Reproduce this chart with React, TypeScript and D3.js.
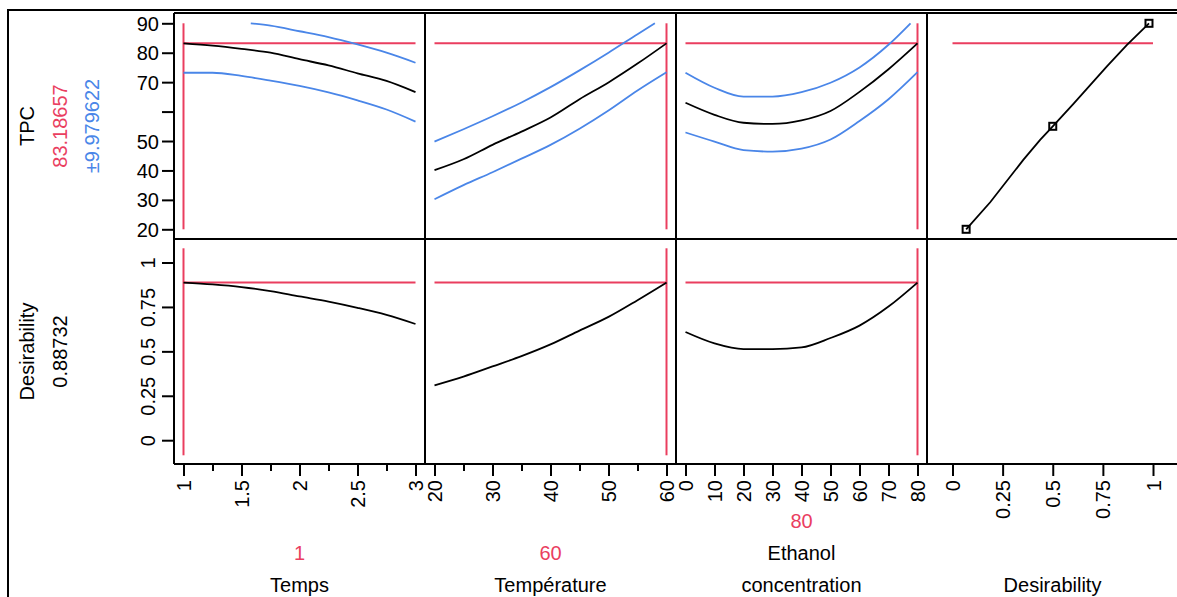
import React, { useEffect, useRef } from 'react';
import * as d3 from 'd3';

// current settings / predicted response
const currentTemps = 1;
const currentTemp = 60;
const currentEthanol = 80;
const currentTPC = 83.18657;
const tpcHalfWidth = 9.979622;
const currentDesir = 0.88732;

// Temps column
const tempsX = [1, 1.25, 1.5, 1.75, 2, 2.25, 2.5, 2.75, 3];
const tempsTPC = [83.19, 82.4, 81.3, 80.0, 77.8, 75.7, 73.0, 70.4, 66.6];
const tempsUpperX = [1.58, 1.75, 2, 2.25, 2.5, 2.75, 3];
const tempsUpper = [90, 89.2, 87.3, 85.3, 82.8, 80.0, 76.6];
const tempsLower = [73.2, 73.2, 72.1, 70.5, 68.7, 66.5, 63.8, 60.7, 56.6];
const tempsDesir = [0.887, 0.877, 0.862, 0.839, 0.809, 0.78, 0.745, 0.705, 0.654];

// Température column
const tempX = [20, 25, 30, 35, 40, 45, 50, 55, 60];
const tempTPC = [40.1, 43.8, 48.7, 53.2, 58.0, 64.2, 69.9, 76.3, 83.19];
const tempUpperX = [20, 25, 30, 35, 40, 45, 50, 55, 58];
const tempUpper = [49.8, 54.0, 58.4, 63.1, 68.3, 74.0, 80.0, 86.3, 90];
const tempLower = [30.2, 35.0, 39.4, 44.0, 48.7, 54.2, 60.4, 67.2, 73.4];
const tempDesir = [0.309, 0.358, 0.415, 0.473, 0.539, 0.617, 0.694, 0.788, 0.887];

// Ethanol concentration column
const ethX = [0, 10, 20, 30, 40, 50, 60, 70, 80];
const ethTPC = [63.0, 58.9, 56.2, 55.8, 57.0, 60.2, 66.7, 74.4, 83.19];
const ethUpperX = [0, 10, 20, 30, 40, 50, 60, 70, 77.6];
const ethUpper = [73.2, 68.1, 65.1, 65.1, 66.6, 69.8, 75.0, 82.7, 90];
const ethLower = [52.9, 49.8, 46.9, 46.4, 47.4, 50.5, 56.8, 64.2, 73.4];
const ethDesir = [0.609, 0.545, 0.513, 0.513, 0.522, 0.575, 0.645, 0.752, 0.887];

// desirability function for TPC
const desirD = [0.068, 0.188, 0.353, 0.437, 0.5, 0.603, 0.769, 0.869, 0.98];
const desirTPC = [20, 29.2, 43.6, 50.4, 55, 62.6, 75.3, 82.6, 90];
const desirMarkD = [0.068, 0.5, 0.98];
const desirMarkTPC = [20, 55, 90];

// ticks
const tpcTicks = [20, 30, 40, 50, 60, 70, 80, 90];
const tpcTickLabels = ['20', '30', '40', '50', '', '70', '80', '90'];
const desirTicks = [0, 0.25, 0.5, 0.75, 1];
const tempsTicks = [1, 1.5, 2, 2.5, 3];
const tempsMinor = [1.25, 1.75, 2.25, 2.75];
const tempTicks = [20, 30, 40, 50, 60];
const tempMinor = [25, 35, 45, 55];
const ethTicks = [0, 10, 20, 30, 40, 50, 60, 70, 80];

const RED = '#ea3e5f';
const BLUE = '#4a86e8';
const FONT = '"Liberation Sans", Arial, sans-serif';

const App = () => {
  const svgRef = useRef<SVGSVGElement>(null);

  useEffect(() => {
    const W = 1177, H = 597;
    const colX = [174, 425, 676, 927, 1178];
    const rowY = [13, 239, 464];

    const svg = d3.select(svgRef.current);
    svg.selectAll('*').remove();
    svg.attr('width', W).attr('height', H).style('font-family', FONT);

    // x scales, one per column
    const xs = [
      d3.scaleLinear().domain([1, 3]).range([colX[0] + 9.5, colX[1] - 9.5]),
      d3.scaleLinear().domain([20, 60]).range([colX[1] + 9.5, colX[2] - 9.5]),
      d3.scaleLinear().domain([0, 80]).range([colX[2] + 9.5, colX[3] - 9.5]),
      d3.scaleLinear().domain([0, 1]).range([colX[3] + 25.5, colX[4] - 25])
    ];
    // y scales, one per row
    const yT = d3.scaleLinear().domain([20, 90]).range([rowY[1] - 9.7, rowY[0] + 10.3]);
    const yD = d3.scaleLinear().domain([-0.085, 1.08]).range([rowY[2] - 8.7, rowY[1] + 9.3]);

    const line = (x: d3.ScaleLinear<number, number>, y: d3.ScaleLinear<number, number>) =>
      d3.line<[number, number]>().x((d) => x(d[0])).y((d) => y(d[1])).curve(d3.curveMonotoneX);
    const zip = (a: number[], b: number[]) => a.map((v, i) => [v, b[i]] as [number, number]);

    const current = [currentTemps, currentTemp, currentEthanol];

    // red crosshairs
    const g = svg.append('g');
    for (let c = 0; c < 4; c++) {
      const x = xs[c];
      g.append('line')
        .attr('x1', x.range()[0]).attr('x2', x.range()[1])
        .attr('y1', yT(currentTPC)).attr('y2', yT(currentTPC))
        .attr('stroke', RED).attr('stroke-width', 2);
      if (c < 3) {
        g.append('line')
          .attr('x1', x.range()[0]).attr('x2', x.range()[1])
          .attr('y1', yD(currentDesir)).attr('y2', yD(currentDesir))
          .attr('stroke', RED).attr('stroke-width', 2);
        g.append('line')
          .attr('x1', x(current[c])).attr('x2', x(current[c]))
          .attr('y1', yT.range()[0]).attr('y2', yT.range()[1])
          .attr('stroke', RED).attr('stroke-width', 2);
        g.append('line')
          .attr('x1', x(current[c])).attr('x2', x(current[c]))
          .attr('y1', yD.range()[0]).attr('y2', yD.range()[1])
          .attr('stroke', RED).attr('stroke-width', 2);
      }
    }

    // prediction traces
    const traces = [
      { x: xs[0], mid: zip(tempsX, tempsTPC), up: zip(tempsUpperX, tempsUpper), lo: zip(tempsX, tempsLower), d: zip(tempsX, tempsDesir) },
      { x: xs[1], mid: zip(tempX, tempTPC), up: zip(tempUpperX, tempUpper), lo: zip(tempX, tempLower), d: zip(tempX, tempDesir) },
      { x: xs[2], mid: zip(ethX, ethTPC), up: zip(ethUpperX, ethUpper), lo: zip(ethX, ethLower), d: zip(ethX, ethDesir) }
    ];
    traces.forEach((t) => {
      const lt = line(t.x, yT);
      [t.up, t.lo].forEach((pts) =>
        g.append('path').attr('d', lt(pts)).attr('fill', 'none').attr('stroke', BLUE).attr('stroke-width', 1.8)
      );
      g.append('path').attr('d', lt(t.mid)).attr('fill', 'none').attr('stroke', '#000').attr('stroke-width', 1.8);
      g.append('path').attr('d', line(t.x, yD)(t.d)).attr('fill', 'none').attr('stroke', '#000').attr('stroke-width', 1.8);
    });

    // desirability function (straight segments)
    g.append('path')
      .attr('d', d3.line<[number, number]>().x((d) => xs[3](d[0])).y((d) => yT(d[1]))(zip(desirD, desirTPC)))
      .attr('fill', 'none').attr('stroke', '#000').attr('stroke-width', 1.8);
    g.selectAll('.mark')
      .data(zip(desirMarkD, desirMarkTPC))
      .enter()
      .append('rect')
      .attr('x', (d) => xs[3](d[0]) - 3.5)
      .attr('y', (d) => yT(d[1]) - 3.5)
      .attr('width', 7).attr('height', 7)
      .attr('fill', 'none').attr('stroke', '#000').attr('stroke-width', 2);

    // outer frame + panel grid
    svg.append('rect').attr('x', 8).attr('y', 10).attr('width', W).attr('height', H)
      .attr('fill', 'none').attr('stroke', '#000').attr('stroke-width', 2);
    colX.forEach((x) =>
      svg.append('line').attr('x1', x).attr('x2', x).attr('y1', rowY[0]).attr('y2', rowY[2])
        .attr('stroke', '#000').attr('stroke-width', 2)
    );
    rowY.forEach((y) =>
      svg.append('line').attr('x1', colX[0]).attr('x2', W + 2).attr('y1', y).attr('y2', y)
        .attr('stroke', '#000').attr('stroke-width', 2)
    );

    const styleAxis = (sel: d3.Selection<SVGGElement, unknown, null, undefined>) => {
      sel.select('.domain').remove();
      sel.selectAll('line').attr('stroke-width', 2);
      sel.selectAll('text').attr('font-size', 20).attr('font-family', FONT).attr('fill', '#000');
    };

    // y axis, TPC
    const ay1 = svg.append('g').attr('transform', `translate(${colX[0]},0)`)
      .call(d3.axisLeft(yT).tickValues(tpcTicks).tickSize(12).tickSizeOuter(0)
        .tickFormat((d, i) => tpcTickLabels[i]));
    styleAxis(ay1);
    ay1.selectAll('text').attr('x', -15).attr('dy', '0.35em');

    // y axis, Desirability (rotated labels)
    const ay2 = svg.append('g').attr('transform', `translate(${colX[0]},0)`)
      .call(d3.axisLeft(yD).tickValues(desirTicks).tickSize(12).tickSizeOuter(0)
        .tickFormat((d) => String(d)));
    styleAxis(ay2);
    ay2.selectAll('text').attr('x', 0).attr('dy', 0).attr('text-anchor', 'middle')
      .attr('transform', 'translate(-19,0) rotate(-90)');

    // x axes
    const xTicks = [tempsTicks, tempTicks, ethTicks, desirTicks];
    const xMinor = [tempsMinor, tempMinor, [], []];
    xs.forEach((x, c) => {
      const ax = svg.append('g').attr('transform', `translate(0,${rowY[2]})`)
        .call(d3.axisBottom(x).tickValues(xTicks[c]).tickSize(12).tickSizeOuter(0)
          .tickFormat((d) => String(d)));
      styleAxis(ax);
      ax.selectAll('text').attr('y', 0).attr('x', -16).attr('dy', '0.35em')
        .attr('text-anchor', 'end').attr('transform', 'rotate(-90)');
      if (xMinor[c].length) {
        const am = svg.append('g').attr('transform', `translate(0,${rowY[2]})`)
          .call(d3.axisBottom(x).tickValues(xMinor[c]).tickSize(7).tickSizeOuter(0).tickFormat(() => ''));
        styleAxis(am);
      }
    });

    // row titles
    const rowTitle = (cx: number, cy: number, txt: string, color: string) =>
      svg.append('text').attr('transform', `translate(${cx},${cy}) rotate(-90)`)
        .attr('text-anchor', 'middle').attr('font-size', 20).attr('fill', color).text(txt);
    const c1 = (rowY[0] + rowY[1]) / 2;
    const c2 = (rowY[1] + rowY[2]) / 2;
    rowTitle(33.5, c1, 'TPC', '#000');
    rowTitle(66.5, c1, currentTPC.toFixed(5), RED);
    rowTitle(98.5, c1, '±' + tpcHalfWidth.toFixed(6), BLUE);
    rowTitle(33.5, c2, 'Desirability', '#000');
    rowTitle(66.5, c2, currentDesir.toFixed(5), '#000');

    // column titles
    const colTitle = (c: number, y: number, txt: string, color: string) =>
      svg.append('text').attr('x', (colX[c] + colX[c + 1]) / 2).attr('y', y)
        .attr('text-anchor', 'middle').attr('font-size', 20).attr('fill', color).text(txt);
    colTitle(0, 560, String(currentTemps), RED);
    colTitle(0, 592, 'Temps', '#000');
    colTitle(1, 560, String(currentTemp), RED);
    colTitle(1, 592, 'Température', '#000');
    colTitle(2, 528, String(currentEthanol), RED);
    colTitle(2, 560, 'Ethanol', '#000');
    colTitle(2, 592, 'concentration', '#000');
    colTitle(3, 592, 'Desirability', '#000');
  }, []);

  return (
    <svg ref={svgRef} style={{ position: 'absolute', left: 0, top: 0, background: '#fff' }}></svg>
  );
};

export default App;
